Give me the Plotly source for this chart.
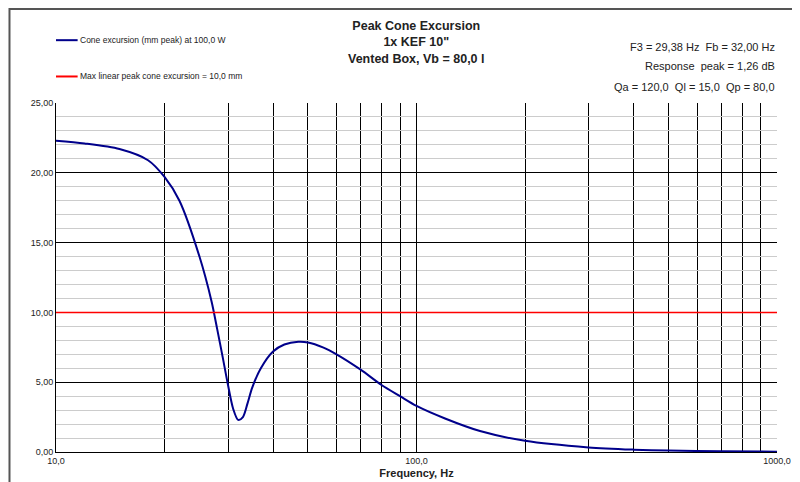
import plotly.graph_objects as go

freq = [10, 12, 15, 18, 20, 22, 25, 27, 28, 29, 30, 31, 32, 33, 34, 35, 37, 40, 43, 47, 50, 55, 60, 70, 80, 90, 100, 120, 150, 200, 300, 400, 500, 700, 1000]
excursion = [22.3, 22.1, 21.7, 20.9, 19.7, 18.0, 14.0, 10.8, 8.8, 6.8, 4.8, 3.1, 2.3, 2.5, 3.5, 4.6, 6.0, 7.2, 7.7, 7.9, 7.85, 7.5, 7.0, 5.9, 4.8, 4.0, 3.3, 2.4, 1.5, 0.8, 0.33, 0.17, 0.1, 0.05, 0.02]
xmax_line = 10.0
x_ticks = [10, 100, 1000]
x_tick_labels = ["10,0", "100,0", "1000,0"]
y_ticks = [0, 5, 10, 15, 20, 25]
y_tick_labels = ["0,00", "5,00", "10,00", "15,00", "20,00", "25,00"]

fig = go.Figure()
fig.add_trace(go.Scatter(x=freq, y=excursion, mode="lines", line=dict(color="#00008b", width=2, shape="spline", smoothing=0.8), showlegend=False))
fig.add_trace(go.Scatter(x=[10, 1000], y=[xmax_line, xmax_line], mode="lines", line=dict(color="#ff0000", width=1.5), showlegend=False))

font = "Liberation Sans, Arial, sans-serif"
fig.update_layout(
    width=800, height=482, paper_bgcolor="white", plot_bgcolor="white",
    margin=dict(l=48, r=31, t=95, b=38, autoexpand=False),
    font=dict(family=font, size=9, color="#222"),
    xaxis=dict(type="log", range=[1, 3], tickvals=x_ticks, ticktext=x_tick_labels, automargin=False,
               showgrid=True, gridcolor="#000", gridwidth=1,
               minor=dict(showgrid=True, gridcolor="#000", gridwidth=1, dtick="D1"),
               showline=True, linecolor="#000", mirror=False, ticks="", zeroline=False,
               title=dict(text="<b>Frequency, Hz</b>", font=dict(size=11, color="#222"), standoff=4)),
    yaxis=dict(range=[0, 25], tickvals=y_ticks, ticktext=y_tick_labels, automargin=False,
               showgrid=True, gridcolor="#000", gridwidth=1,
               minor=dict(showgrid=True, gridcolor="#ccc", gridwidth=1, tickmode="linear", tick0=0, dtick=1),
               showline=True, linecolor="#000", ticks="", zeroline=False),
    shapes=[dict(type="rect", xref="paper", yref="paper", x0=-0.0645, x1=1.0402, y0=-0.106, y1=1.269,
                 line=dict(color="#555", width=2), layer="above")],
)
fig.add_annotation(text="<b>Peak Cone Excursion<br>1x KEF 10\"<br>Vented Box, Vb = 80,0 l</b>", xref="paper", yref="paper", x=0.5, y=1.245, xanchor="center", yanchor="top", showarrow=False, font=dict(size=12.5))
fig.add_shape(type="line", xref="paper", yref="paper", x0=0.0, x1=0.03, y0=1.18, y1=1.18, line=dict(color="#00008b", width=2))
fig.add_shape(type="line", xref="paper", yref="paper", x0=0.0, x1=0.03, y0=1.076, y1=1.076, line=dict(color="#ff0000", width=2))
fig.add_annotation(text="Cone excursion (mm peak) at 100,0 W", xref="paper", yref="paper", x=0.031, y=1.18, xanchor="left", yanchor="middle", showarrow=False, font=dict(size=8.5))
fig.add_annotation(text="Max linear peak cone excursion = 10,0 mm", xref="paper", yref="paper", x=0.031, y=1.076, xanchor="left", yanchor="middle", showarrow=False, font=dict(size=8.5))
for txt, yy in [("F3 = 29,38 Hz  Fb = 32,00 Hz", 1.16), ("Response  peak = 1,26 dB", 1.105), ("Qa = 120,0  Ql = 15,0  Qp = 80,0", 1.045)]:
    fig.add_annotation(text=txt, xref="paper", yref="paper", x=1.0, y=yy, xanchor="right", yanchor="middle", showarrow=False, font=dict(size=11))
fig.write_html("out.html")
